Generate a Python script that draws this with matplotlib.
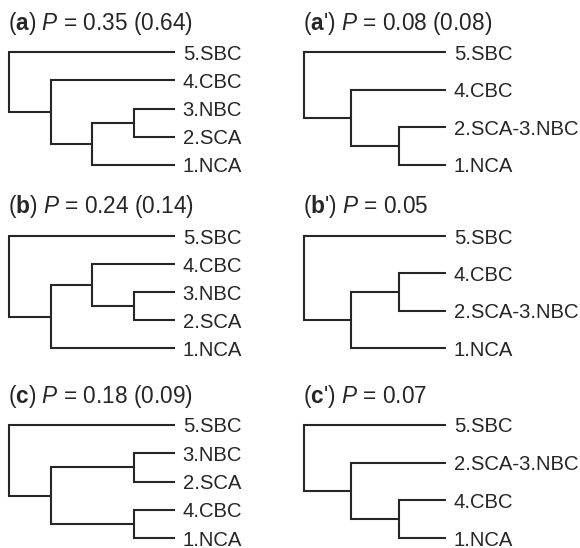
import matplotlib
matplotlib.use("Agg")
import matplotlib.pyplot as plt
from matplotlib.transforms import offset_copy

plt.rcParams.update({
    "font.family": "Liberation Sans",
    "mathtext.fontset": "custom",
    "mathtext.rm": "Liberation Sans",
    "mathtext.it": "Liberation Sans:italic",
    "mathtext.bf": "Liberation Sans:bold",
})

# trees: (node depth, upper child, lower child); leaves are strings
tree_a = (0, "5.SBC", (1, "4.CBC", (2, (3, "3.NBC", "2.SCA"), "1.NCA")))
tree_b = (0, "5.SBC", (1, (2, "4.CBC", (3, "3.NBC", "2.SCA")), "1.NCA"))
tree_c = (0, "5.SBC", (1, (3, "3.NBC", "2.SCA"), (3, "4.CBC", "1.NCA")))
tree_a2 = (0, "5.SBC", (1, "4.CBC", (2, "2.SCA-3.NBC", "1.NCA")))
tree_b2 = (0, "5.SBC", (1, (2, "4.CBC", "2.SCA-3.NBC"), "1.NCA"))
tree_c2 = (0, "5.SBC", (1, "2.SCA-3.NBC", (2, "4.CBC", "1.NCA")))

panel_letters = ["a", "b", "c", "a'", "b'", "c'"]
p_values = ["0.35 (0.64)", "0.24 (0.14)", "0.18 (0.09)", "0.08 (0.08)", "0.05", "0.07"]
trees = [tree_a, tree_b, tree_c, tree_a2, tree_b2, tree_c2]
leaf_depths = [4, 4, 4, 3, 3, 3]

W, H = 580, 548
COLOR = "#262626"
LW = 1.5

fig = plt.figure(figsize=(W / 100, H / 100), dpi=100)

# panel boxes in pixels: (left, right of leaves, top leaf, bottom leaf)
col_x = [(9, 175), (304, 446)]
row_y = [(52, 165), (236, 348), (425, 538)]
title_base = [30, 213, 403]


def leaves_of(node):
    if isinstance(node, str):
        return [node]
    return leaves_of(node[1]) + leaves_of(node[2])


def draw(ax, node, leaf_y, leaf_depth):
    """Draws the subtree, returns (x, y) of its node."""
    if isinstance(node, str):
        return leaf_depth, leaf_y[node]
    depth, up, low = node
    xu, yu = draw(ax, up, leaf_y, leaf_depth)
    xl, yl = draw(ax, low, leaf_y, leaf_depth)
    ax.plot([xu, depth, depth, xl], [yu, yu, yl, yl], color=COLOR, lw=LW,
            solid_joinstyle="miter", solid_capstyle="butt",
            clip_on=False)
    return depth, (yu + yl) / 2


for i, (tree, letter, pval, ld) in enumerate(
        zip(trees, panel_letters, p_values, leaf_depths)):
    col, row = divmod(i, 3)
    x0, x1 = col_x[col]
    y0, y1 = row_y[row]
    ax = fig.add_axes([x0 / W, 1 - y1 / H, (x1 - x0) / W, (y1 - y0) / H])

    names = leaves_of(tree)
    leaf_y = {n: k for k, n in enumerate(names)}
    draw(ax, tree, leaf_y, ld)

    ax.set_xlim(0, ld)
    ax.set_ylim(len(names) - 1, 0)
    ax.axis("off")

    trans = offset_copy(ax.transData, fig=fig, x=5.5, y=0, units="points")
    for n, k in leaf_y.items():
        ax.text(ld, k, n, transform=trans, ha="left", va="center_baseline",
                fontsize=14.6, color=COLOR, clip_on=False)

    if "'" in letter:
        label = r"($\mathbf{%s}$') $P$ = %s" % (letter[0], pval)
    else:
        label = r"($\mathbf{%s}$) $P$ = %s" % (letter, pval)
    fig.text((x0 - 1) / W, 1 - title_base[row] / H, label,
             ha="left", va="baseline", fontsize=16.3, color=COLOR)

fig.savefig("out.png", dpi=100)
